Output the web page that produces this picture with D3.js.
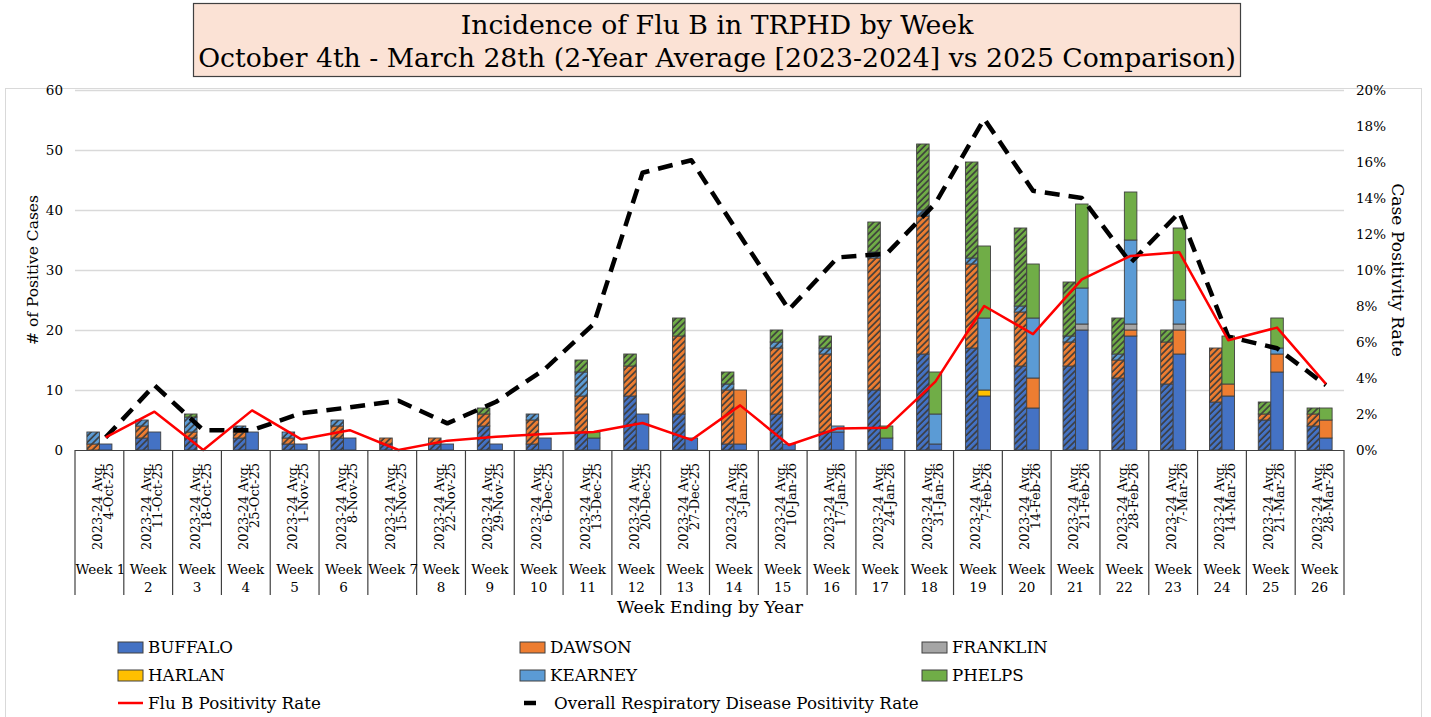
<!DOCTYPE html>
<html>
<head>
<meta charset="utf-8">
<script src="https://cdn.jsdelivr.net/npm/d3@7"></script>
<style>
  body { margin: 0; background: #fff; }
  svg text { font-family: "DejaVu Serif", "Liberation Serif", serif; fill: #000; }
</style>
</head>
<body>
<svg id="chart" width="1431" height="717"></svg>
<script>
// categories
var weekLabels = ["Week 1","Week 2","Week 3","Week 4","Week 5","Week 6","Week 7","Week 8","Week 9","Week 10","Week 11","Week 12","Week 13",
                  "Week 14","Week 15","Week 16","Week 17","Week 18","Week 19","Week 20","Week 21","Week 22","Week 23","Week 24","Week 25","Week 26"];
var weekDates = ["4-Oct-25","11-Oct-25","18-Oct-25","25-Oct-25","1-Nov-25","8-Nov-25","15-Nov-25","22-Nov-25","29-Nov-25","6-Dec-25","13-Dec-25",
                 "20-Dec-25","27-Dec-25","3-Jan-26","10-Jan-26","17-Jan-26","24-Jan-26","31-Jan-26","7-Feb-26","14-Feb-26","21-Feb-26","28-Feb-26",
                 "7-Mar-26","14-Mar-26","21-Mar-26","28-Mar-26"];
var counties = ["BUFFALO","DAWSON","FRANKLIN","HARLAN","KEARNEY","PHELPS"];

// 2023-24 average (hatched bars)
var buffaloAvg  = [0,2,2,2,1,2,1,1,4,1,3,9,6,1,6,3,10,16,17,14,14,12,11,8,5,4];
var dawsonAvg   = [1,2,1,1,1,2,1,1,2,4,6,5,13,9,11,13,22,23,14,9,4,3,7,9,1,2];
var franklinAvg = [0,0,0,0,0,0,0,0,0,0,0,0,0,0,0,0,0,0,0,0,0,0,0,0,0,0];
var harlanAvg   = [0,0,0,0,0,0,0,0,0,0,0,0,0,0,0,0,0,0,0,0,0,0,0,0,0,0];
var kearneyAvg  = [2,1,2.5,1,1,1,0,0,0,1,4,0,0,1,1,1,1,1,1,1,1,1,0,0,0,0];
var phelpsAvg   = [0,0,0.5,0,0,0,0,0,1,0,2,2,3,2,2,2,5,11,16,13,9,6,2,0,2,1];

// 2025 season (solid bars)
var buffaloCur  = [1,3,0,3,1,2,0,1,1,2,2,6,2,1,1,3,2,1,9,7,20,19,16,9,13,2];
var dawsonCur   = [0,0,0,0,0,0,0,0,0,0,0,0,0,9,0,0,0,0,0,5,0,1,4,2,3,3];
var franklinCur = [0,0,0,0,0,0,0,0,0,0,0,0,0,0,0,0,0,0,0,0,1,1,1,0,0,0];
var harlanCur   = [0,0,0,0,0,0,0,0,0,0,0,0,0,0,0,0,0,0,1,0,0,0,0,0,0,0];
var kearneyCur  = [0,0,0,0,0,0,0,0,0,0,0,0,0,0,0,1,0,5,12,10,6,14,4,0,1,0];
var phelpsCur   = [0,0,0,0,0,0,0,0,0,0,1,0,0,0,0,0,2,7,12,9,14,8,12,8,5,2];

// positivity rates (%)
var fluBRate    = [0.7,2.13,0,2.2,0.6,1.1,0,0.52,0.74,0.89,1.0,1.5,0.56,2.48,0.28,1.2,1.24,3.8,8.0,6.44,9.48,10.78,10.98,6.1,6.8,3.67];
var overallRate = [0.7,3.6,1.1,1.1,2.04,2.37,2.74,1.48,2.68,4.5,7.0,15.4,16.1,11.9,7.8,10.7,10.9,13.7,18.4,14.4,14.0,10.4,13.2,6.3,5.65,3.6];

var leftTicks  = [0,10,20,30,40,50,60];
var rightTicks = [0,2,4,6,8,10,12,14,16,18,20];

var colors = { BUFFALO: "#4472c4", DAWSON: "#ed7d31", FRANKLIN: "#a5a5a5", HARLAN: "#ffc000", KEARNEY: "#5b9bd5", PHELPS: "#70ad47" };

window.onload = function () {
    var svg = d3.select("#chart");

    // font size that makes a string a given width (no Georgia here, so measure instead)
    function sizeFor(str, target) {
        var t = svg.append("text").style("font-size", "20px").text(str);
        var w = t.node().getComputedTextLength();
        t.remove();
        return (20 * target / w).toFixed(2) + "px";
    }
    var titleSize  = sizeFor("October 4th - March 28th (2-Year Average [2023-2024] vs 2025 Comparison)", 1038);
    var tickSize   = "13.5px";
    var dateSize   = sizeFor("2023-24 Avg.", 87);
    var weekSize   = sizeFor("Week", 37);
    var legendSize = sizeFor("Overall Respiratory Disease Positivity Rate", 365);

    // build rows for d3.stack
    var avgCols = [buffaloAvg, dawsonAvg, franklinAvg, harlanAvg, kearneyAvg, phelpsAvg];
    var curCols = [buffaloCur, dawsonCur, franklinCur, harlanCur, kearneyCur, phelpsCur];
    function rows(cols) {
        return weekLabels.map(function (w, i) {
            var r = { week: w };
            counties.forEach(function (c, j) { r[c] = cols[j][i]; });
            return r;
        });
    }
    var stack = d3.stack().keys(counties);
    var avgSeries = stack(rows(avgCols));
    var curSeries = stack(rows(curCols));

    var x = d3.scaleBand().domain(weekLabels).range([75, 1344]);
    var xSub = d3.scaleBand().domain(["avg", "cur"]).range([0, x.bandwidth()]).paddingInner(0).paddingOuter(0.95);
    var y = d3.scaleLinear().domain([0, 60]).range([450, 90]);
    var yR = d3.scaleLinear().domain([0, 20]).range([450, 90]);

    // outer chart border
    svg.append("rect").attr("x", 5.5).attr("y", 88.5).attr("width", 1416).attr("height", 640)
        .attr("fill", "none").attr("stroke", "#d9d9d9");

    // hatch patterns
    var defs = svg.append("defs");
    counties.forEach(function (c) {
        var p = defs.append("pattern").attr("id", "hatch-" + c)
            .attr("patternUnits", "userSpaceOnUse").attr("width", 4.5).attr("height", 4.5)
            .attr("patternTransform", "rotate(45)");
        p.append("rect").attr("width", 4.5).attr("height", 4.5).attr("fill", colors[c]);
        p.append("line").attr("x1", 1).attr("y1", 0).attr("x2", 1).attr("y2", 4.5)
            .attr("stroke", "#3b3b3b").attr("stroke-width", 1.6);
    });

    // gridlines
    svg.append("g").selectAll("line").data(leftTicks.slice(1)).join("line")
        .attr("x1", 75).attr("x2", 1344)
        .attr("y1", function (d) { return y(d) + 0.5; }).attr("y2", function (d) { return y(d) + 0.5; })
        .attr("stroke", "#d9d9d9").attr("stroke-width", 1.3);

    // left axis labels
    svg.append("g").selectAll("text").data(leftTicks).join("text")
        .attr("x", 63).attr("y", function (d) { return y(d) + 5; })
        .attr("text-anchor", "end").style("font-size", tickSize).text(function (d) { return d; });

    // right axis labels
    svg.append("g").selectAll("text").data(rightTicks).join("text")
        .attr("x", 1356).attr("y", function (d) { return yR(d) + 5; })
        .style("font-size", tickSize).text(function (d) { return d + "%"; });

    // bars
    function drawBars(series, key, hatched) {
        svg.append("g").selectAll("g").data(series).join("g")
            .attr("fill", function (s) { return hatched ? "url(#hatch-" + s.key + ")" : colors[s.key]; })
            .selectAll("rect").data(function (s) { return s.filter(function (d) { return d[1] > d[0]; }); }).join("rect")
            .attr("x", function (d) { return x(d.data.week) + xSub(key); })
            .attr("width", xSub.bandwidth())
            .attr("y", function (d) { return y(d[1]); })
            .attr("height", function (d) { return y(d[0]) - y(d[1]); })
            .attr("stroke", "#404040").attr("stroke-width", 0.9);
    }
    drawBars(avgSeries, "avg", true);
    drawBars(curSeries, "cur", false);

    // lines
    function lineX(i) { return x(weekLabels[i]) + xSub("cur") + xSub.bandwidth() / 2; }
    var line = d3.line().x(function (d, i) { return lineX(i); }).y(function (d) { return yR(d); });
    svg.append("path").datum(overallRate).attr("d", line)
        .attr("fill", "none").attr("stroke", "#000").attr("stroke-width", 4.5)
        .attr("stroke-dasharray", "15 9").attr("stroke-linejoin", "round");
    svg.append("path").datum(fluBRate).attr("d", line)
        .attr("fill", "none").attr("stroke", "#ff0000").attr("stroke-width", 2.5)
        .attr("stroke-linejoin", "round");

    // category axis "table"
    var ax = svg.append("g");
    ax.append("line").attr("x1", 75).attr("x2", 1344).attr("y1", 450.5).attr("y2", 450.5)
        .attr("stroke", "#404040").attr("stroke-width", 1.2);
    var bounds = weekLabels.map(function (w) { return x(w); }).concat([x.range()[1]]);
    ax.selectAll("line.div").data(bounds).join("line").attr("class", "div")
        .attr("x1", function (d) { return d; }).attr("x2", function (d) { return d; })
        .attr("y1", 450).attr("y2", 595)
        .attr("stroke", "#404040").attr("stroke-width", 1.2);

    weekLabels.forEach(function (w, i) {
        var cx = x(w) + x.bandwidth() / 2;
        var t = ax.append("text").attr("transform", "translate(" + cx + ",463) rotate(-90)")
            .attr("text-anchor", "end").style("font-size", dateSize);
        t.append("tspan").attr("x", 0).attr("y", 2.5).text("2023-24 Avg.");
        t.append("tspan").attr("x", 0).attr("y", 13.5).text(weekDates[i]);

        var parts = w.split(" ");
        var wt = ax.append("text").attr("text-anchor", "middle").style("font-size", weekSize);
        if (parts[1] === "1" || parts[1] === "7") {
            wt.attr("x", cx + 1).attr("y", 574).text(w);
        } else {
            wt.append("tspan").attr("x", cx).attr("y", 574).text(parts[0]);
            wt.append("tspan").attr("x", cx).attr("y", 592).text(parts[1]);
        }
    });

    // axis titles
    svg.append("text").attr("x", 710).attr("y", 613).attr("text-anchor", "middle")
        .style("font-size", sizeFor("Week Ending by Year", 186)).text("Week Ending by Year");
    svg.append("text").attr("transform", "translate(38,270) rotate(-90)").attr("text-anchor", "middle")
        .style("font-size", sizeFor("# of Positive Cases", 150)).text("# of Positive Cases");
    svg.append("text").attr("transform", "translate(1392,270) rotate(90)").attr("text-anchor", "middle")
        .style("font-size", sizeFor("Case Positivity Rate", 174)).text("Case Positivity Rate");

    // title box
    svg.append("rect").attr("x", 193.5).attr("y", 3.5).attr("width", 1047).attr("height", 73)
        .attr("fill", "#fbe2d5").attr("stroke", "#404040").attr("stroke-width", 1.2);
    svg.append("text").attr("x", 717).attr("y", 34).attr("text-anchor", "middle")
        .style("font-size", titleSize).text("Incidence of Flu B in TRPHD by Week");
    svg.append("text").attr("x", 717).attr("y", 67).attr("text-anchor", "middle")
        .style("font-size", titleSize).text("October 4th - March 28th (2-Year Average [2023-2024] vs 2025 Comparison)");

    // legend
    var legendItems = counties.map(function (c) { return { name: c, type: "bar" }; })
        .concat([{ name: "Flu B Positivity Rate", type: "red" }, { name: "Overall Respiratory Disease Positivity Rate", type: "dash" }]);
    var lg = svg.append("g");
    legendItems.forEach(function (d, i) {
        var col = i % 3, row = Math.floor(i / 3);
        var lx = 118 + col * 402, ly = 647 + row * 28;
        if (d.type === "bar") {
            lg.append("rect").attr("x", lx).attr("y", ly - 5).attr("width", 25).attr("height", 11)
                .attr("fill", colors[d.name]).attr("stroke", "#404040").attr("stroke-width", 1);
        } else if (d.type === "red") {
            lg.append("line").attr("x1", lx).attr("x2", lx + 25).attr("y1", ly).attr("y2", ly)
                .attr("stroke", "#ff0000").attr("stroke-width", 2.5);
        } else {
            lg.append("line").attr("x1", lx + 4).attr("x2", lx + 16).attr("y1", ly).attr("y2", ly)
                .attr("stroke", "#000").attr("stroke-width", 4.5);
        }
        lg.append("text").attr("x", d.type === "dash" ? lx + 34 : lx + 30).attr("y", ly + 6)
            .style("font-size", legendSize).text(d.name);
    });
};
</script>
</body>
</html>
